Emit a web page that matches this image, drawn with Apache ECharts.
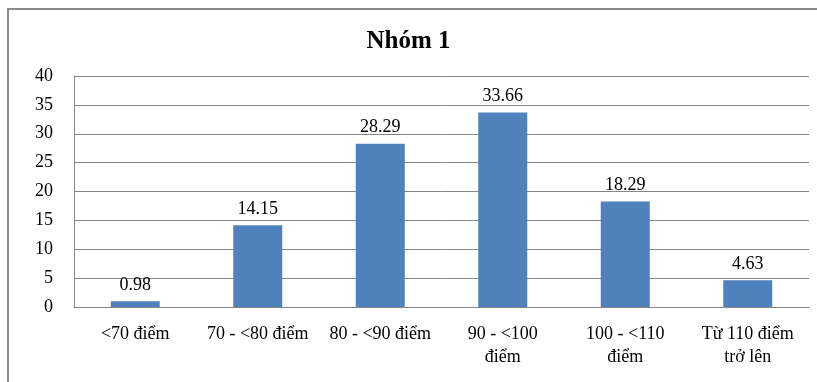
<!DOCTYPE html>
<html>
<head>
<meta charset="utf-8">
<script src="https://cdn.jsdelivr.net/npm/echarts@6/dist/echarts.min.js"></script>
<style>
html,body{margin:0;padding:0;background:#fff;}
#chart{width:817px;height:382px;}
</style>
</head>
<body>
<div id="chart"></div>
<script>
// Score bands and the share of students in each
const categories = ['<70 điểm', '70 - <80 điểm', '80 - <90 điểm', '90 - <100\nđiểm', '100 - <110\nđiểm', 'Từ 110 điểm\ntrở lên'];
const values = [0.98, 14.15, 28.29, 33.66, 18.29, 4.63];
const yTicks = [0, 5, 10, 15, 20, 25, 30, 35, 40];

const serif = 'Liberation Serif';
const chart = echarts.init(document.getElementById('chart'));
chart.setOption({
  animation: false,
  backgroundColor: '#fff',
  graphic: [{
    type: 'rect',
    shape: { x: 8, y: 9, width: 900, height: 400 },
    style: { fill: 'none', stroke: '#8a8a8a', lineWidth: 2 },
    silent: true
  }],
  title: {
    text: 'Nhóm 1',
    left: 'center',
    top: 24,
    textStyle: { fontFamily: serif, fontWeight: 'bold', fontSize: 25, color: '#000' }
  },
  grid: { left: 74, right: 8, top: 76, bottom: 75 },
  xAxis: {
    type: 'category',
    data: categories,
    axisLine: { lineStyle: { color: '#868686', width: 1 } },
    axisTick: { show: false },
    axisLabel: {
      interval: 0,
      margin: 16,
      fontFamily: serif,
      fontSize: 18,
      lineHeight: 23,
      color: '#000'
    }
  },
  yAxis: {
    type: 'value',
    min: yTicks[0],
    max: yTicks[yTicks.length - 1],
    interval: 5,
    axisLine: { show: true, lineStyle: { color: '#868686', width: 1 } },
    axisTick: { show: false },
    splitLine: { lineStyle: { color: '#868686', width: 1 } },
    axisLabel: { margin: 21, fontFamily: serif, fontSize: 18, color: '#000' }
  },
  series: [{
    type: 'bar',
    data: values,
    barWidth: 49,
    itemStyle: { color: '#4F81BD' },
    label: {
      show: true,
      position: 'top',
      distance: 7,
      fontFamily: serif,
      fontSize: 18,
      color: '#000',
      formatter: p => p.value.toFixed(2)
    }
  }]
});
</script>
</body>
</html>
